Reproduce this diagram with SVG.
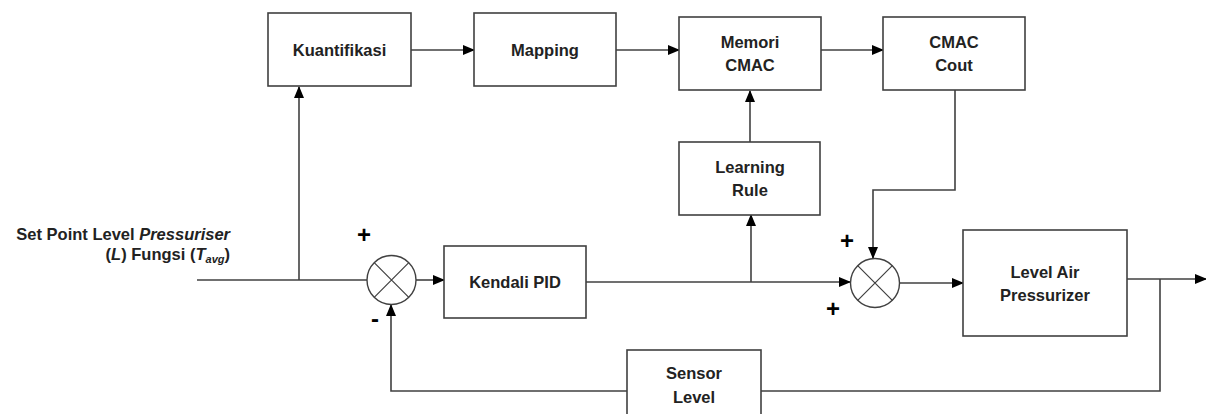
<svg xmlns="http://www.w3.org/2000/svg" width="1206" height="414" viewBox="0 0 1206 414">
<defs>
<marker id="arr" markerWidth="12" markerHeight="10" refX="11" refY="5" orient="auto" markerUnits="userSpaceOnUse">
<path d="M0,0 L12,5 L0,10 Z" fill="#000"/>
</marker>
<style>
.box{fill:#fff;stroke:#404040;stroke-width:1.6}
.ln{fill:none;stroke:#404040;stroke-width:1.6}
.sum{fill:#fff;stroke:#404040;stroke-width:1.4}
.x{stroke:#404040;stroke-width:1.2}
.t{font-family:"Liberation Sans",Arial,sans-serif;font-weight:bold;font-size:16.5px;fill:#222;text-anchor:middle}
.s{font-family:"Liberation Sans",Arial,sans-serif;font-weight:bold;font-size:24px;fill:#000;text-anchor:middle}
.lbl{font-family:"Liberation Sans",Arial,sans-serif;font-weight:bold;font-size:16.5px;fill:#222;text-anchor:end}
</style>
</defs>
<rect width="1206" height="414" fill="#fff"/>
<g id="connectors">
<path class="ln" d="M197,280 H367"/>
<path class="ln" d="M299,280 V87" marker-end="url(#arr)"/>
<path class="ln" d="M411,50 H474" marker-end="url(#arr)"/>
<path class="ln" d="M616,50 H679" marker-end="url(#arr)"/>
<path class="ln" d="M821,50 H883" marker-end="url(#arr)"/>
<path class="ln" d="M416,280 H444" marker-end="url(#arr)"/>
<path class="ln" d="M586,282 H850" marker-end="url(#arr)"/>
<path class="ln" d="M751,282 V215" marker-end="url(#arr)"/>
<path class="ln" d="M750,142 V91" marker-end="url(#arr)"/>
<path class="ln" d="M955,90 V190 H873 V258" marker-end="url(#arr)"/>
<path class="ln" d="M900,283 H963" marker-end="url(#arr)"/>
<path class="ln" d="M1127,279 H1206" marker-end="url(#arr)"/>
<path class="ln" d="M1160,279 V391 H391 V305" marker-end="url(#arr)"/>
</g>
<g id="kuantifikasi"><rect class="box" x="268" y="13" width="143" height="73"/><text class="t" x="339.5" y="56">Kuantifikasi</text></g>
<g id="mapping"><rect class="box" x="474" y="13" width="142" height="73"/><text class="t" x="545" y="56">Mapping</text></g>
<g id="memori"><rect class="box" x="679" y="17" width="142" height="73"/><text class="t" x="750" y="48">Memori</text><text class="t" x="750" y="71">CMAC</text></g>
<g id="cmaccout"><rect class="box" x="883" y="17" width="142" height="73"/><text class="t" x="954" y="48">CMAC</text><text class="t" x="954" y="71">Cout</text></g>
<g id="learning"><rect class="box" x="679" y="142" width="141" height="73"/><text class="t" x="750" y="173">Learning</text><text class="t" x="750" y="196">Rule</text></g>
<g id="pid"><rect class="box" x="444" y="246" width="142" height="72"/><text class="t" x="515" y="288">Kendali PID</text></g>
<g id="level"><rect class="box" x="963" y="230" width="164" height="106"/><text class="t" x="1045" y="278">Level Air</text><text class="t" x="1045" y="301">Pressurizer</text></g>
<g id="sensor"><rect class="box" x="627" y="350" width="134" height="70"/><text class="t" x="694" y="379">Sensor</text><text class="t" x="694" y="403">Level</text></g>
<g id="sum1"><circle class="sum" cx="391.5" cy="280" r="24.5"/><path class="x" d="M374.2,262.7 L408.8,297.3 M408.8,262.7 L374.2,297.3"/></g>
<g id="sum2"><circle class="sum" cx="875" cy="283" r="24.5"/><path class="x" d="M857.7,265.7 L892.3,300.3 M892.3,265.7 L857.7,300.3"/></g>
<g id="signs">
<text class="s" x="364" y="243">+</text>
<text class="s" x="375" y="327">-</text>
<text class="s" x="847" y="249">+</text>
<text class="s" x="833" y="317">+</text>
</g>
<g id="setpoint">
<text class="lbl" x="230" y="240">Set Point Level <tspan font-style="italic">Pressuriser</tspan></text>
<text class="lbl" x="230" y="260">(<tspan font-style="italic">L</tspan>) Fungsi (<tspan font-style="italic">T</tspan><tspan font-style="italic" font-size="11" dy="3">avg</tspan><tspan dy="-3">)</tspan></text>
</g>
</svg>
